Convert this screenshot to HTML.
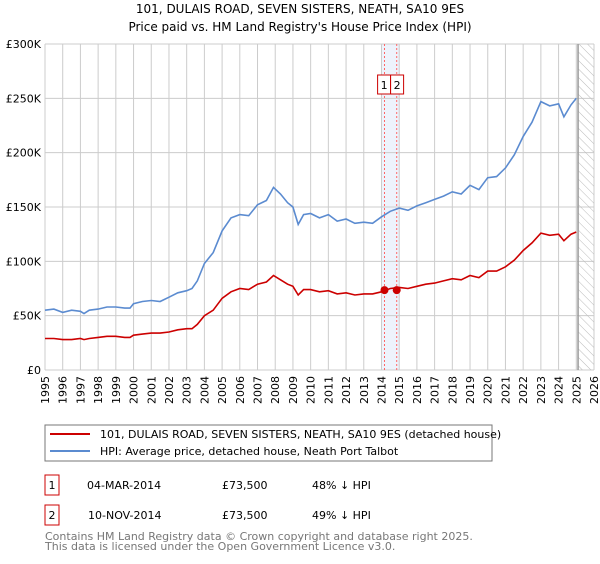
<!DOCTYPE html>
<html><head><meta charset="utf-8"><style>
body{margin:0;background:#fff;font-family:"DejaVu Sans","Liberation Sans",sans-serif;}
svg text{font-family:"DejaVu Sans","Liberation Sans",sans-serif;}
</style></head><body>
<svg id="c" width="600" height="560" xmlns="http://www.w3.org/2000/svg">
<defs><pattern id="hatch" width="6" height="6" patternUnits="userSpaceOnUse" patternTransform="rotate(-45)"><line x1="0" y1="0" x2="0" y2="6" stroke="#bbb" stroke-width="1"/></pattern></defs>
<text x="300" y="13" text-anchor="middle" font-size="12" fill="#000">101, DULAIS ROAD, SEVEN SISTERS, NEATH, SA10 9ES</text>
<text x="300" y="31" text-anchor="middle" font-size="12" fill="#000">Price paid vs. HM Land Registry's House Price Index (HPI)</text>
<g id="grid"></g><g id="marks"></g><g id="axes"></g>
<rect x="45" y="425" width="447" height="36" fill="#fff" stroke="#777"/>
<line x1="50" y1="434" x2="90" y2="434" stroke="#cc0000" stroke-width="2"/>
<text x="100" y="438" font-size="11">101, DULAIS ROAD, SEVEN SISTERS, NEATH, SA10 9ES (detached house)</text>
<line x1="50" y1="451" x2="90" y2="451" stroke="#5b8bd0" stroke-width="2"/>
<text x="100" y="455" font-size="11">HPI: Average price, detached house, Neath Port Talbot</text>
<rect x="45" y="475" width="14" height="20" fill="#fff" stroke="#cc0000"/>
<text x="52" y="489" font-size="11" text-anchor="middle">1</text>
<text x="87" y="489" font-size="11">04-MAR-2014</text>
<text x="222" y="489" font-size="11">£73,500</text>
<text x="312" y="489" font-size="11">48% ↓ HPI</text>
<rect x="45" y="505" width="14" height="20" fill="#fff" stroke="#cc0000"/>
<text x="52" y="519" font-size="11" text-anchor="middle">2</text>
<text x="88" y="519" font-size="11">10-NOV-2014</text>
<text x="222" y="519" font-size="11">£73,500</text>
<text x="312" y="519" font-size="11">49% ↓ HPI</text>
<text x="45" y="540" font-size="11" fill="#777">Contains HM Land Registry data © Crown copyright and database right 2025.</text>
<text x="45" y="550" font-size="11" fill="#777">This data is licensed under the Open Government Licence v3.0.</text>
</svg>
<script>
const years=[1995,1995.5,1996,1996.5,1997,1997.2,1997.5,1998,1998.5,1999,1999.5,1999.8,2000,2000.5,2001,2001.5,2002,2002.5,2003,2003.3,2003.6,2004,2004.5,2005,2005.5,2006,2006.5,2007,2007.5,2007.9,2008.3,2008.7,2009,2009.3,2009.6,2010,2010.5,2011,2011.5,2012,2012.5,2013,2013.5,2014,2014.5,2015,2015.5,2016,2016.5,2017,2017.5,2018,2018.5,2019,2019.5,2020,2020.5,2021,2021.5,2022,2022.5,2023,2023.5,2024,2024.3,2024.7,2025];
const hpi=[55,56,53,55,54,52,55,56,58,58,57,57,61,63,64,63,67,71,73,75,82,98,108,128,140,143,142,152,156,168,162,154,150,134,143,144,140,143,137,139,135,136,135,141,146,149,147,151,154,157,160,164,162,170,166,177,178,186,198,215,228,247,243,245,233,244,250];
const price=[29,29,28,28,29,28,29,30,31,31,30,30,32,33,34,34,35,37,38,38,42,50,55,66,72,75,74,79,81,87,83,79,77,69,74,74,72,73,70,71,69,70,70,72,75,76,75,77,79,80,82,84,83,87,85,91,91,95,101,110,117,126,124,125,119,125,127];
const sales=[[2014.17,73.5],[2014.86,73.5]];
const yTicks=[0,50,100,150,200,250,300];
const yLabels=["£0","£50K","£100K","£150K","£200K","£250K","£300K"];
const xTicks=[];for(let y=1995;y<=2026;y++)xTicks.push(y);
const X0=45,X1=594,Y0=370,Y1=44,xmin=1995,xmax=2026,ymax=300,forecast=2025.1;
const xs=v=>X0+(v-xmin)/(xmax-xmin)*(X1-X0);
const ys=v=>Y0-v/ymax*(Y0-Y1);
const NS="http://www.w3.org/2000/svg";
function mk(tag,attrs,parent){const e=document.createElementNS(NS,tag);for(const k in attrs)e.setAttribute(k,attrs[k]);parent.appendChild(e);return e;}
const grid=document.getElementById('grid'),marks=document.getElementById('marks'),axes=document.getElementById('axes');
const band=mk('rect',{x:xs(sales[0][0])-3,y:Y1,width:xs(sales[1][0])-xs(sales[0][0])+6,height:Y0-Y1,fill:'#eef3fc'},grid);


xTicks.forEach(t=>{const l=mk('line',{x1:xs(t),x2:xs(t),y1:Y1,y2:Y0,stroke:'#ccc'},grid);


const tx=mk('text',{x:0,y:0,'font-size':11,'text-anchor':'end',transform:`translate(${xs(t)+4},${Y0+6}) rotate(-90)`},axes);tx.textContent=t;

});
yTicks.forEach((t,i)=>{const l=mk('line',{x1:X0,x2:X1,y1:ys(t),y2:ys(t),stroke:'#ccc'},grid);


const tx=mk('text',{x:X0-4,y:ys(t)+4,'font-size':11,'text-anchor':'end'},axes);tx.textContent=yLabels[i];

});
const fr=mk('rect',{x:xs(forecast),y:Y1,width:X1-xs(forecast),height:Y0-Y1,fill:'url(#hatch)'},grid);


const fl=mk('line',{x1:xs(forecast),x2:xs(forecast),y1:Y1,y2:Y0,stroke:'#999','stroke-width':1.5},grid);


sales.forEach((s,i)=>{const l=mk('line',{x1:xs(s[0]),x2:xs(s[0]),y1:Y1,y2:Y0,stroke:'#ff6666','stroke-dasharray':'2,2'},grid);

});
function path(arr,color,name){let d=years.map((y,i)=>(i?'L':'M')+xs(y).toFixed(1)+','+ys(arr[i]).toFixed(1)).join('');
const p=mk('path',{d:d,fill:'none',stroke:color,'stroke-width':1.6},marks);

}
path(hpi,'#5b8bd0','hpi-line');
path(price,'#cc0000','price-paid-line');
const mid=(xs(sales[0][0])+xs(sales[1][0]))/2;
sales.forEach((s,i)=>{const c=mk('circle',{cx:xs(s[0]),cy:ys(s[1]),r:4,fill:'#cc0000'},marks);


const bx=mid+(i?0:-13);
const r=mk('rect',{x:bx,y:75,width:13,height:19,fill:'#fff',stroke:'#cc0000'},marks);


const t=mk('text',{x:bx+6.5,y:89,'font-size':11,'text-anchor':'middle'},marks);t.textContent=String(i+1);

});
</script>
</body></html>
